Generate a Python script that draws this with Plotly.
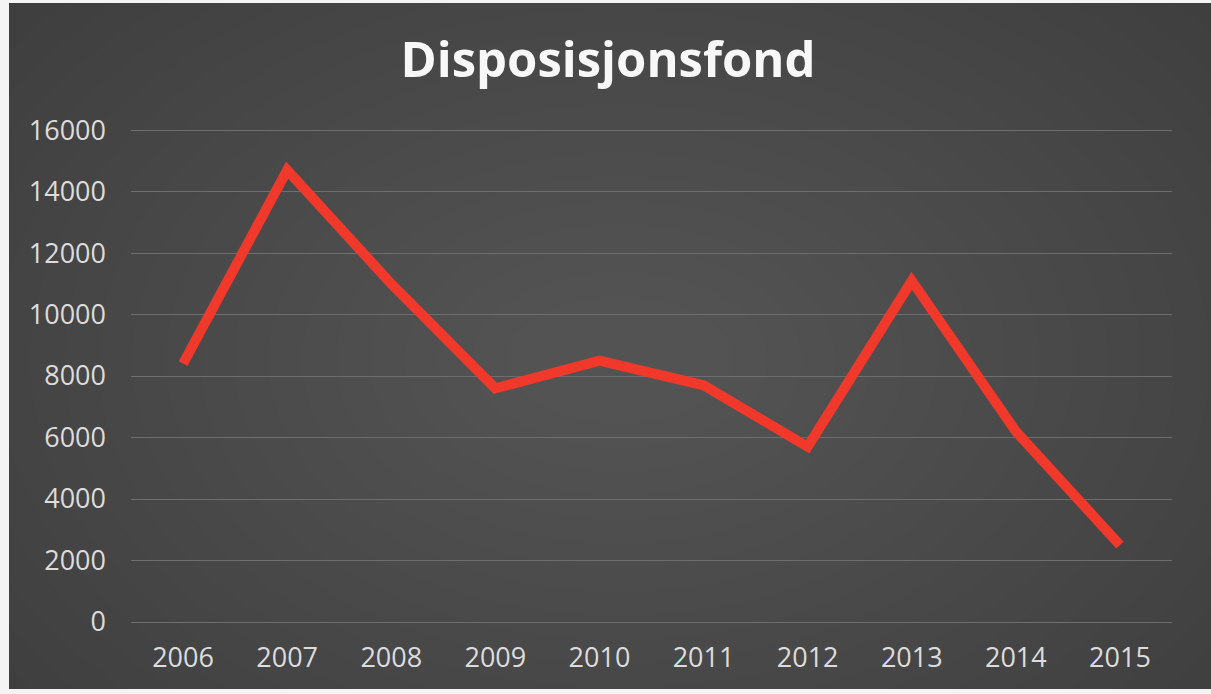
import plotly.graph_objects as go

# Disposisjonsfond per år
years = ["2006", "2007", "2008", "2009", "2010", "2011", "2012", "2013", "2014", "2015"]
fond = [8400, 14700, 11000, 7600, 8500, 7700, 5700, 11100, 6200, 2500]
y_ticks = [0, 2000, 4000, 6000, 8000, 10000, 12000, 14000, 16000]

W, H = 1211, 694
ML, MR, MT, MB = 131, 39, 127, 72
PW, PH = W - ML - MR, H - MT - MB


def px_x(p):
    return (p - ML) / PW


def px_y(p):
    return (H - MB - p) / PH


fig = go.Figure()
fig.add_trace(go.Scatter(
    x=years, y=fond, mode="lines",
    line=dict(color="#f0392b", width=10),
    hoverinfo="x+y", showlegend=False,
))

# slate card on a light sheet, with a faint lighter centre
shapes = [dict(type="rect", xref="paper", yref="paper", layer="below",
               x0=px_x(9), x1=px_x(W + 5), y0=px_y(689), y1=px_y(3),
               fillcolor="#3f3f3f", line=dict(width=0))]
cx, cy = px_x(620), px_y(360)
for i in range(20):
    fx = (760 - i * 34) / PW
    fy = (520 - i * 24) / PH
    shapes.append(dict(type="circle", xref="paper", yref="paper", layer="below",
                       x0=cx - fx, x1=cx + fx, y0=cy - fy, y1=cy + fy,
                       fillcolor="rgba(255,255,255,0.009)", line=dict(width=0)))

fig.update_layout(
    width=W, height=H,
    margin=dict(l=ML, r=MR, t=MT, b=MB),
    paper_bgcolor="#f4f4f4",
    plot_bgcolor="rgba(0,0,0,0)",
    shapes=shapes,
    title=dict(text="<b>Disposisjonsfond</b>", x=608 / W, xanchor="center",
               y=1 - 60 / H, yanchor="middle", yref="container",
               font=dict(family="Open Sans", size=49, color="#f7f7f7")),
    xaxis=dict(type="category", range=[-0.5, 9.5], showgrid=False,
               showline=False, zeroline=False, ticks="",
               ticklabelstandoff=17,
               tickfont=dict(family="Open Sans", size=27, color="#dcdcdc")),
    yaxis=dict(range=[0, 16100], tickvals=y_ticks, tickformat="d",
               showgrid=True, gridcolor="#6e6e6e", gridwidth=1, zeroline=True,
               zerolinecolor="#6e6e6e", zerolinewidth=1, showline=False,
               ticks="", ticklabelstandoff=24,
               tickfont=dict(family="Open Sans", size=27, color="#dcdcdc")),
)

fig.write_html("out.html")
